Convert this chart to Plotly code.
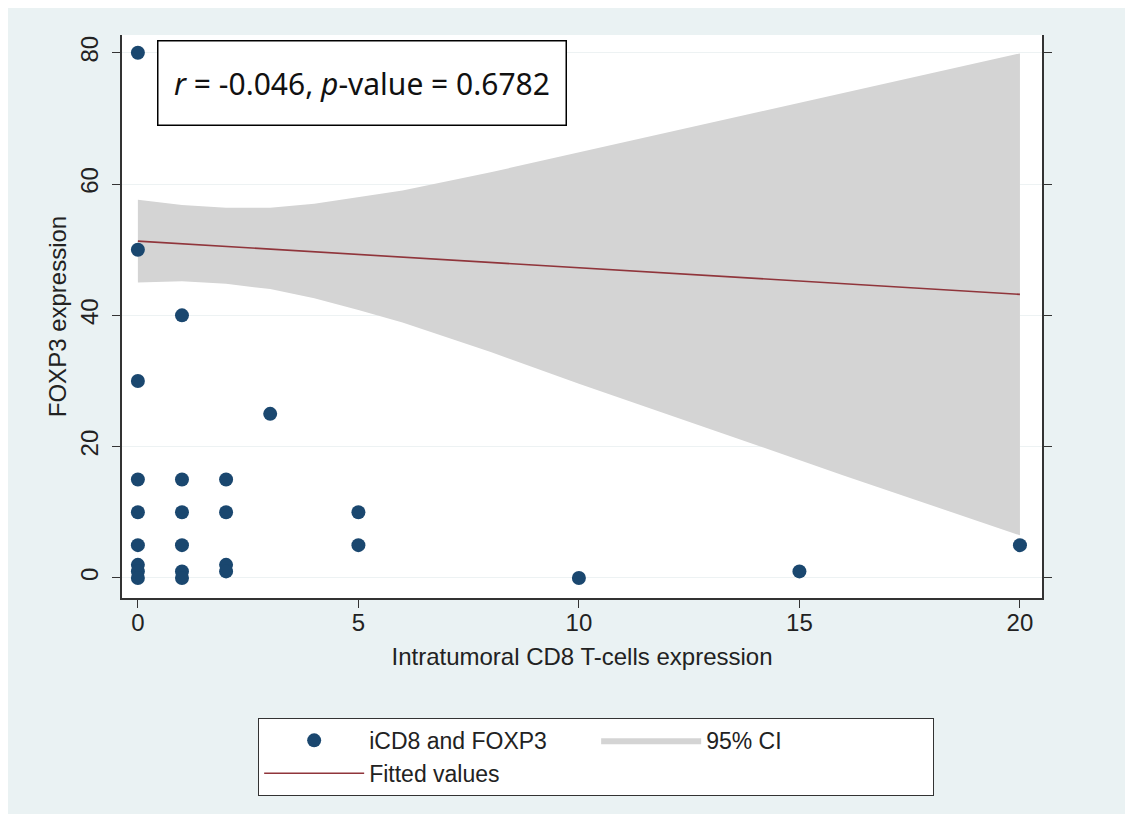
import plotly.graph_objects as go

# Scatter data: iCD8 (x) and FOXP3 (y)
icd8 = [0, 0, 0, 0, 0, 0, 0, 0, 0,
        1, 1, 1, 1, 1, 1,
        2, 2, 2, 2,
        3,
        5, 5,
        10, 15, 20]
foxp3 = [80, 50, 30, 15, 10, 5, 2, 1, 0,
         40, 15, 10, 5, 1, 0,
         15, 10, 2, 1,
         25,
         10, 5,
         0, 1, 5]

# Fitted values and 95% CI
fit_x = [0, 1, 2, 3, 4, 5, 6, 8, 10, 12, 14, 16, 18, 20]
fit_y = [51.3, 50.9, 50.5, 50.1, 49.7, 49.3, 48.9, 48.1, 47.3, 46.4, 45.6, 44.8, 44.0, 43.2]
ci_upper = [57.6, 56.8, 56.4, 56.4, 57.0, 58.0, 59.0, 61.8, 64.8, 67.8, 70.8, 73.8, 76.9, 79.9]
ci_lower = [45.0, 45.2, 44.8, 44.0, 42.6, 40.8, 38.9, 34.4, 29.6, 24.9, 20.3, 15.6, 11.0, 6.5]

x_ticks = [0, 5, 10, 15, 20]
y_ticks = [0, 20, 40, 60, 80]

NAVY = "#1a476f"
MAROON = "#90353b"
CI_FILL = "#d4d4d4"
BG = "#eaf2f3"
FONT = "Liberation Sans, Arial, sans-serif"

fig = go.Figure()

fig.add_trace(go.Scatter(
    x=fit_x + fit_x[::-1],
    y=ci_upper + ci_lower[::-1],
    fill="toself", fillcolor=CI_FILL,
    line=dict(width=0, color=CI_FILL),
    mode="lines", name="95% CI", legendrank=2, hoverinfo="skip",
))
fig.add_trace(go.Scatter(
    x=fit_x, y=fit_y, mode="lines",
    line=dict(color=MAROON, width=1.6),
    name="Fitted values", legendrank=3,
))
fig.add_trace(go.Scatter(
    x=icd8, y=foxp3, mode="markers",
    marker=dict(color=NAVY, size=14, line=dict(width=0)),
    name="iCD8 and FOXP3", legendrank=1,
))

fig.update_layout(
    width=1125, height=806,
    paper_bgcolor=BG, plot_bgcolor="white",
    margin=dict(l=114, r=91, t=27, b=216),
    font=dict(family=FONT, size=24, color="#222222"),
    showlegend=True,
    legend=dict(
        orientation="h", x=0.148, y=-0.213, xanchor="left", yanchor="top",
        bgcolor="white", bordercolor="#333333", borderwidth=1,
        entrywidth=222, itemwidth=100,
        font=dict(family=FONT, size=23, color="#222222"),
        traceorder="normal",
    ),
    xaxis=dict(
        range=[-0.36, 20.5], tickvals=x_ticks, ticks="outside", ticklen=8,
        tickcolor="#333333", showline=True, linecolor="#333333", linewidth=1.5,
        showgrid=False, zeroline=False, mirror=False,
        tickfont=dict(size=24), ticklabelstandoff=-6,
        title=dict(text="Intratumoral CD8 T-cells expression", font=dict(size=24), standoff=14),
    ),
    yaxis=dict(
        range=[-3.05, 82.7], tickvals=y_ticks, ticks="outside", ticklen=8,
        tickcolor="#333333", showline=True, linecolor="#333333", linewidth=1.5,
        showgrid=True, gridcolor="#edf2f3", gridwidth=1, zeroline=False,
        mirror="ticks", tickangle=-90, tickfont=dict(size=24), ticklabelstandoff=5,
        title=dict(text="FOXP3 expression", font=dict(size=24), standoff=2),
    ),
    annotations=[dict(
        xref="paper", yref="paper", x=0.038, y=0.991,
        xanchor="left", yanchor="top",
        text="<i>r</i> = -0.046, <i>p</i>-value = 0.6782",
        showarrow=False, align="center",
        width=401, height=77, borderpad=3,
        bgcolor="white", bordercolor="black", borderwidth=1.5,
        font=dict(family="Noto Sans, Open Sans, sans-serif", size=30, color="#111111"),
    )],
)

fig.write_html("out.html")
